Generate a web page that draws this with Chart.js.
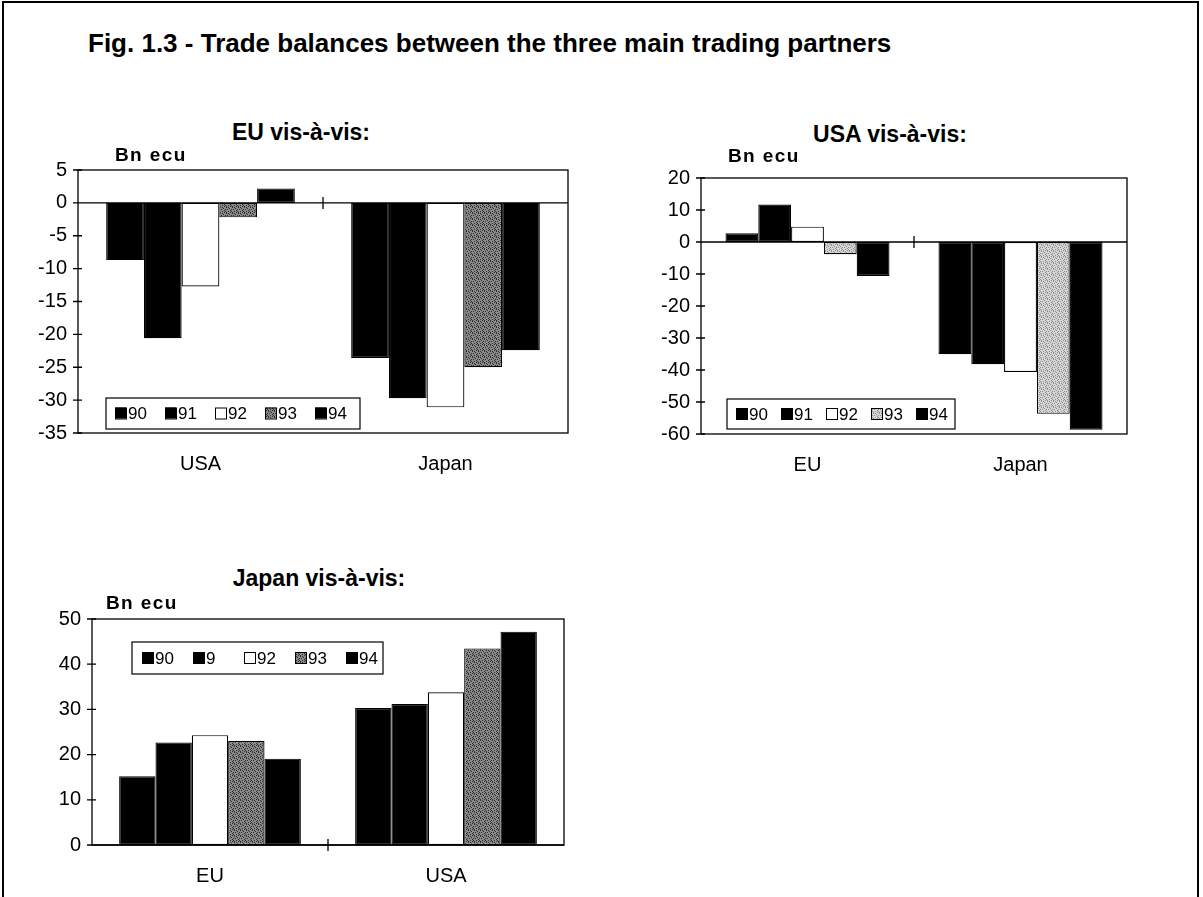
<!DOCTYPE html>
<html lang="en">
<head>
<meta charset="UTF-8">
<title>Fig. 1.3 - Trade balances</title>
<script src="https://cdn.jsdelivr.net/npm/chart.js"></script>
<style>
  body { margin: 0; background: #fff; font-family: "Liberation Sans", Arial, sans-serif; }
  #page { position: relative; width: 1203px; height: 897px; overflow: hidden; }
  #frame { position: absolute; left: 2px; top: 1px; width: 1193px; height: 940px; border: 2px solid #000; }
  .txt { position: absolute; color: #000; white-space: nowrap; line-height: 1; }
  .figtitle { left: 88px; top: 30px; font-weight: bold; font-size: 26px; }
  .ctitle { font-weight: bold; font-size: 23px; transform: translateX(-50%); }
  .unit { font-weight: bold; font-size: 19px; letter-spacing: 1.4px; }
  .box { position: absolute; }
</style>
</head>
<body>
<div id="page">
  <div id="frame"></div>
  <div class="box" style="left:28px; top:147px; width:546px; height:336px;"><canvas id="euChart"></canvas></div>
  <div class="box" style="left:651px; top:155px; width:482px; height:329px;"><canvas id="usaChart"></canvas></div>
  <div class="box" style="left:42px; top:596px; width:528px; height:299px;"><canvas id="jpChart"></canvas></div>

  <div class="txt figtitle">Fig. 1.3 - Trade balances between the three main trading partners</div>
  <div class="txt ctitle" style="left:301px; top:121px;">EU vis-à-vis:</div>
  <div class="txt ctitle" style="left:890px; top:123px;">USA vis-à-vis:</div>
  <div class="txt ctitle" style="left:319px; top:567px;">Japan vis-à-vis:</div>
  <div class="txt unit" style="left:115px; top:145px;">Bn ecu</div>
  <div class="txt unit" style="left:728px; top:146px;">Bn ecu</div>
  <div class="txt unit" style="left:106px; top:593px;">Bn ecu</div>
</div>
<script>
// years shown in the legends
const yearLabels = ['90', '91', '92', '93', '94'];
const jpLegendLabels = ['90', '9', '92', '93', '94'];

// EU vis-a-vis
const euCats = ['USA', 'Japan'];
const eu90 = [-8.7, -23.6];
const eu91 = [-20.6, -29.7];
const eu92 = [-12.7, -31.1];
const eu93 = [-2.2, -25.0];
const eu94 = [2.2, -22.4];

// USA vis-a-vis
const usaCats = ['EU', 'Japan'];
const usa90 = [2.7, -35.1];
const usa91 = [11.7, -38.2];
const usa92 = [4.8, -40.6];
const usa93 = [-3.8, -53.7];
const usa94 = [-10.6, -58.7];

// Japan vis-a-vis
const jpCats = ['EU', 'USA'];
const jp90 = [15.2, 30.3];
const jp91 = [22.7, 31.2];
const jp92 = [24.3, 33.8];
const jp93 = [23.0, 43.5];
const jp94 = [19.1, 47.2];

const FONT = '"Liberation Sans", Arial, sans-serif';

// grey speckled fill used for 1993
function speckle(light) {
    const c = document.createElement('canvas');
    c.width = 6; c.height = 6;
    const g = c.getContext('2d');
    g.fillStyle = light ? '#d6d6d6' : '#8a8a8a';
    g.fillRect(0, 0, 6, 6);
    g.fillStyle = light ? '#8c8c8c' : '#2e2e2e';
    [[0,0],[3,1],[1,2],[5,2],[2,4],[4,3],[0,5],[4,5],[2,0],[5,4]].forEach(d => g.fillRect(d[0], d[1], 1, 1));
    return g.createPattern(c, 'repeat');
}

// frame, zero line, tick marks and the boxed legend inside the plot
const framePlugin = {
    id: 'frame',
    afterDatasetsDraw(chart, args, opts) {
        const a = chart.chartArea, ctx = chart.ctx;
        const xs = chart.scales.x, ys = chart.scales.y;
        ctx.save();
        ctx.strokeStyle = '#000';
        ctx.lineWidth = 1.3;
        ctx.strokeRect(a.left, a.top, a.right - a.left, a.bottom - a.top);
        const y0 = ys.getPixelForValue(0);
        ctx.beginPath();
        ctx.moveTo(a.left, y0); ctx.lineTo(a.right, y0);
        ys.ticks.forEach(t => {
            const py = ys.getPixelForValue(t.value);
            ctx.moveTo(a.left - 5, py); ctx.lineTo(a.left + 4, py);
        });
        for (let i = 1; i < xs.ticks.length; i++) {
            const px = (xs.getPixelForTick(i - 1) + xs.getPixelForTick(i)) / 2;
            ctx.moveTo(px, y0 - 6); ctx.lineTo(px, y0 + 6);
        }
        ctx.stroke();

        const lg = opts.legend;
        const bx = a.left + lg.x, by = a.top + lg.y;
        ctx.fillStyle = '#fff';
        ctx.fillRect(bx, by, lg.w, lg.h);
        ctx.lineWidth = 1.2;
        ctx.strokeRect(bx, by, lg.w, lg.h);
        ctx.font = '17px ' + FONT;
        ctx.textBaseline = 'middle';
        chart.data.datasets.forEach((ds, i) => {
            const sx = bx + lg.pad + i * lg.gap, sy = by + lg.h / 2 - 6;
            ctx.fillStyle = ds.backgroundColor;
            ctx.fillRect(sx, sy, 11, 11);
            ctx.lineWidth = 1;
            ctx.strokeRect(sx + 0.5, sy + 0.5, 11, 11);
            ctx.fillStyle = '#000';
            ctx.fillText(lg.labels[i], sx + 13, by + lg.h / 2 + 1);
        });
        ctx.restore();
    }
};

function makeChart(id, cats, series, yMin, yMax, step, legend, light) {
    const fills = ['#000', '#000', '#fff', speckle(light), '#000'];
    return new Chart(document.getElementById(id), {
        type: 'bar',
        data: {
            labels: cats,
            datasets: series.map((vals, i) => ({
                label: yearLabels[i],
                data: vals,
                backgroundColor: fills[i],
                borderColor: '#000',
                borderWidth: 1.2,
                borderSkipped: false,
                categoryPercentage: 0.77,
                barPercentage: 1.0
            }))
        },
        options: {
            responsive: true,
            maintainAspectRatio: false,
            animation: false,
            layout: { padding: { top: 1, right: 6, left: 0, bottom: 0 } },
            plugins: {
                legend: { display: false },
                title: { display: false },
                tooltip: { enabled: false },
                frame: { legend: legend }
            },
            scales: {
                x: {
                    grid: { display: false, drawTicks: false },
                    border: { display: false },
                    ticks: { color: '#000', font: { family: FONT, size: 20 }, padding: 19, maxRotation: 0 },
                    afterFit: s => { s.height = 50; }
                },
                y: {
                    min: yMin, max: yMax,
                    grid: { display: false, drawTicks: false },
                    border: { display: false },
                    ticks: { stepSize: step, color: '#000', font: { family: FONT, size: 20 }, padding: 11 },
                    afterFit: s => { s.width = 50; }
                }
            }
        },
        plugins: [framePlugin]
    });
}

makeChart('euChart', euCats, [eu90, eu91, eu92, eu93, eu94], -35, 5, 5,
    { x: 28, y: 228, w: 254, h: 31, pad: 9, gap: 50, labels: yearLabels }, false);
makeChart('usaChart', usaCats, [usa90, usa91, usa92, usa93, usa94], -60, 20, 10,
    { x: 26, y: 221, w: 228, h: 30, pad: 9, gap: 45, labels: yearLabels }, true);
makeChart('jpChart', jpCats, [jp90, jp91, jp92, jp93, jp94], 0, 50, 10,
    { x: 40, y: 23, w: 251, h: 32, pad: 10, gap: 51, labels: jpLegendLabels }, false);
</script>
</body>
</html>
